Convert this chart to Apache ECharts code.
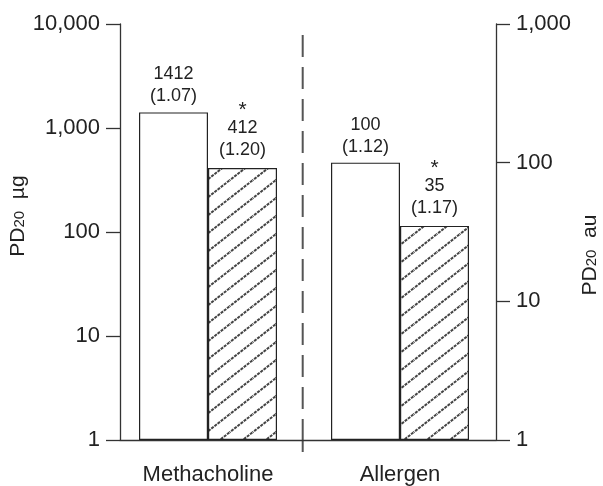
<!DOCTYPE html>
<html>
<head>
<meta charset="utf-8">
<script src="https://cdn.jsdelivr.net/npm/echarts@6/dist/echarts.min.js"></script>
<style>
  html, body { margin: 0; padding: 0; background: #fff; }
  #main { width: 603px; height: 486px; }
</style>
</head>
<body>
<div id="main"></div>
<script>
// data
const categories = ['Methacholine', 'Allergen'];
const baselineValues = [1412, 100];
const baselineGeoSD = ['1.07', '1.12'];
const treatedValues = [412, 35];
const treatedGeoSD = ['1.20', '1.17'];
const treatedMark = ['*', '*'];
const axisMax = [10000, 1000];   // left axis (µg), right axis (au)
const axisNames = ['µg', 'au'];

const FONT = 'Liberation Sans, Arial, sans-serif';
const INK = '#222';

// hatch pattern for the second bar of each pair
function makeHatch() {
  const w = 23, h = 18;
  const c = document.createElement('canvas');
  c.width = w; c.height = h;
  const ctx = c.getContext('2d');
  ctx.fillStyle = '#fff';
  ctx.fillRect(0, 0, w, h);
  ctx.strokeStyle = '#444';
  ctx.lineWidth = 2;
  ctx.setLineDash([3, 1]);
  ctx.beginPath();
  const dx = 2, dy = 2 * h / w;
  ctx.moveTo(-dx, h + dy); ctx.lineTo(w + dx, -dy);
  ctx.moveTo(-dx, dy); ctx.lineTo(dx, -dy);
  ctx.moveTo(w - dx, h + dy); ctx.lineTo(w + dx, h - dy);
  ctx.stroke();
  return c;
}
const hatch = makeHatch();

const chart = echarts.init(document.getElementById('main'));

const gridTop = 24, gridBottom = 46;
const grids = [
  { left: 120, width: 176, top: gridTop, bottom: gridBottom, outerBoundsMode: 'none' },
  { left: 304, right: 107, top: gridTop, bottom: gridBottom, outerBoundsMode: 'none' },
  // full frame for the baseline
  { left: 120, right: 107, top: gridTop, bottom: gridBottom, outerBoundsMode: 'none' }
];

const richText = {
  v: { fontSize: 18, lineHeight: 22, color: INK, fontFamily: FONT },
  s: { fontSize: 21, lineHeight: 13, color: INK, fontFamily: FONT }
};

const xAxes = [];
const yAxes = [];
const series = [];

categories.forEach((cat, i) => {
  xAxes.push({
    type: 'category',
    gridIndex: i,
    data: [cat],
    axisLine: { show: false },
    axisTick: { show: false },
    axisLabel: { margin: 24, fontSize: 22, color: INK, fontFamily: FONT }
  });
  yAxes.push({
    type: 'log',
    gridIndex: i,
    position: i === 0 ? 'left' : 'right',
    min: 1,
    max: axisMax[i],
    logBase: 10,
    name: '{a|PD}{b|20}{a|  ' + axisNames[i] + '}',
    nameLocation: 'middle',
    nameRotate: 90,
    nameGap: i === 0 ? 74 : 82,
    nameTextStyle: {
      padding: i === 0 ? [0, 0, 0, 32] : [0, 46, 0, 0],
      rich: {
        a: { fontSize: 21, color: INK, fontFamily: FONT, lineHeight: 24 },
        b: { fontSize: 15, color: INK, fontFamily: FONT, lineHeight: 24, padding: [4, 0, 0, 0] }
      }
    },
    axisLine: { show: true, lineStyle: { color: '#333', width: 1.3 } },
    axisTick: { show: true, length: 14, lineStyle: { color: '#333', width: 1.3 } },
    minorTick: { show: false },
    splitLine: { show: false },
    axisLabel: {
      margin: 20,
      fontSize: 22,
      color: INK,
      fontFamily: FONT,
      formatter: v => Math.round(v).toLocaleString('en-US')
    }
  });

  series.push({
    type: 'bar',
    xAxisIndex: i,
    yAxisIndex: i,
    barWidth: 69,
    barGap: '0%',
    data: [baselineValues[i]],
    itemStyle: { color: '#fff', borderColor: '#222', borderWidth: 1.2 },
    label: {
      show: true,
      position: 'top',
      distance: 5,
      formatter: () => '{v|' + baselineValues[i] + '}\n{v|(' + baselineGeoSD[i] + ')}',
      rich: richText
    },
    silent: true
  });
  series.push({
    type: 'bar',
    xAxisIndex: i,
    yAxisIndex: i,
    barWidth: 69,
    barGap: '0%',
    data: [treatedValues[i]],
    itemStyle: { color: { image: hatch, repeat: 'repeat' }, borderColor: '#222', borderWidth: 1.2 },
    label: {
      show: true,
      position: 'top',
      distance: 7,
      formatter: () => '{s|' + treatedMark[i] + '}\n{v|' + treatedValues[i] + '}\n{v|(' + treatedGeoSD[i] + ')}',
      rich: richText
    },
    silent: true
  });
});

// baseline across the whole frame
xAxes.push({
  type: 'value',
  gridIndex: 2,
  min: 0,
  max: 1,
  axisLine: { show: true, onZero: false, lineStyle: { color: '#333', width: 1.3 } },
  axisTick: { show: false },
  axisLabel: { show: false },
  splitLine: { show: false }
});
yAxes.push({ type: 'value', gridIndex: 2, show: false });

// dashed divider between the two panels
const divX = (grids[0].left + grids[0].width + grids[1].left) / 2 + 2.7;

const option = {
  backgroundColor: '#fff',
  animation: false,
  grid: grids,
  xAxis: xAxes,
  yAxis: yAxes,
  series: series,
  graphic: [
    {
      type: 'line',
      shape: { x1: divX, y1: 35, x2: divX, y2: 410 },
      style: { stroke: '#555', lineWidth: 2, lineDash: [22, 10] },
      silent: true
    },
    {
      type: 'line',
      shape: { x1: divX, y1: 419, x2: divX, y2: 452 },
      style: { stroke: '#555', lineWidth: 2 },
      silent: true
    }
  ]
};

chart.setOption(option);
</script>
</body>
</html>
